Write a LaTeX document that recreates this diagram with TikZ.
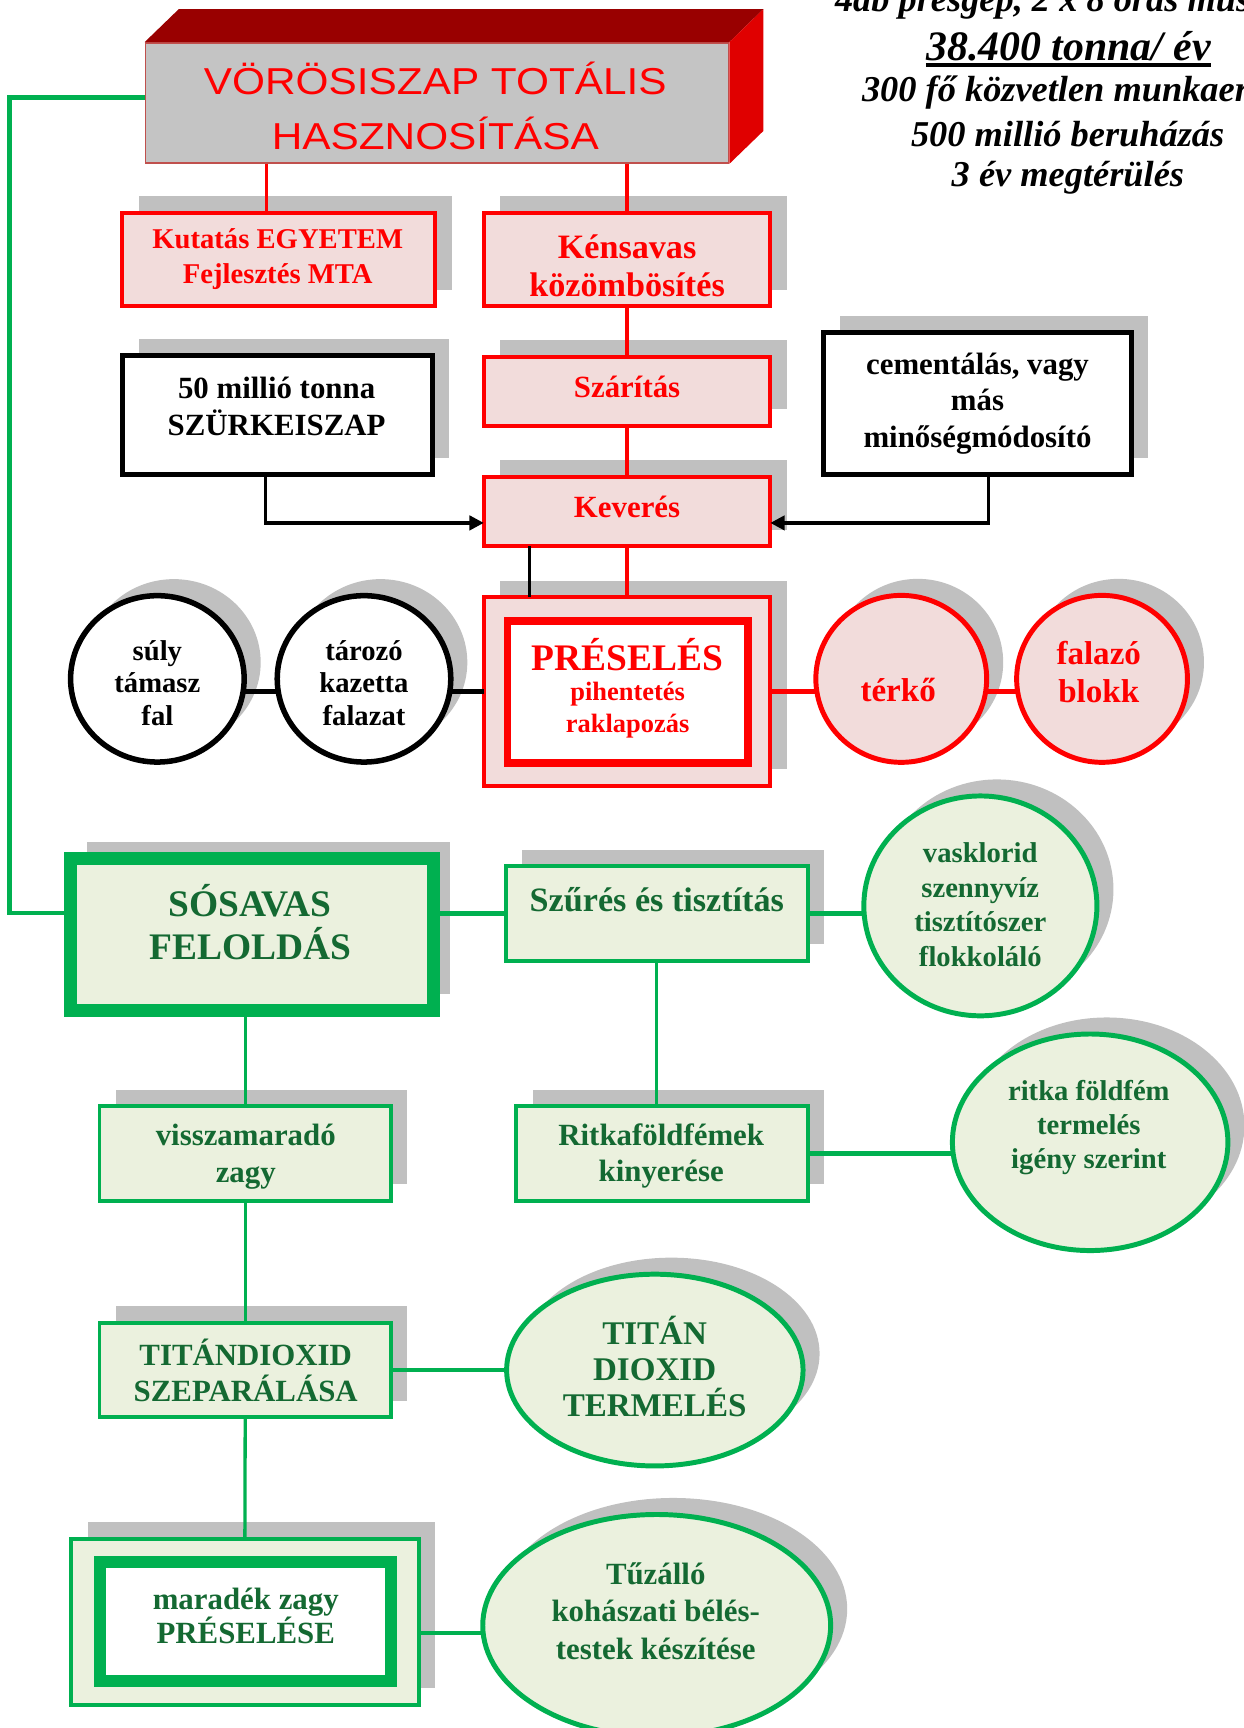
\documentclass[tikz,border=0pt]{standalone}
\usepackage{fontspec}
\setmainfont{Liberation Serif}
\newfontfamily\titlefont[FakeStretch=1.13]{Liberation Sans}
\usetikzlibrary{shapes.geometric,shadows,arrows.meta}
\definecolor{rd}{HTML}{FF0000}
\definecolor{pinkf}{HTML}{F2DCDB}
\definecolor{grf}{HTML}{EBF1DE}
\definecolor{grl}{HTML}{00B050}
\definecolor{grt}{HTML}{146932}
\definecolor{shg}{HTML}{C0C0C0}
\definecolor{drd}{HTML}{990000}
\definecolor{rface}{HTML}{E00000}
\definecolor{tface}{HTML}{C4C4C4}
\definecolor{tborder}{HTML}{C0504D}
\newcommand\fsz[2]{\fontsize{#1}{#2}\selectfont}
\tikzset{
 shd/.style={drop shadow={shadow xshift=15pt,shadow yshift=15pt,opacity=1,fill=shg}},
 boxbase/.style={rectangle,inner sep=0pt,outer sep=0pt,shd},
 redbox/.style={boxbase,draw=rd,line width=3.8pt,fill=pinkf},
 blkbox/.style={boxbase,draw=black,line width=4.5pt,fill=white},
 grnbox/.style={boxbase,draw=grl,line width=3.5pt,fill=grf},
 ovalbase/.style={ellipse,inner sep=0pt,outer sep=0pt,shd},
 blkoval/.style={ovalbase,draw=black,line width=5pt,fill=white},
 redoval/.style={ovalbase,draw=rd,line width=4.5pt,fill=pinkf},
 grnoval/.style={ovalbase,draw=grl,line width=4.5pt,fill=grf},
 txt/.style={align=center,inner sep=0pt},
 rtxt/.style={txt,text=rd},
 ktxt/.style={txt,text=black},
 gtxt/.style={txt,text=grt},
 redln/.style={draw=rd,line width=3pt},
 redthick/.style={draw=rd,line width=4pt},
 blkln/.style={draw=black,line width=3pt},
 blkthick/.style={draw=black,line width=5pt},
 blkarr/.style={draw=black,line width=3pt,-{Triangle[length=13pt,width=13pt]}},
 grnthin/.style={draw=grl,line width=3pt},
 grnmed/.style={draw=grl,line width=4pt},
 grnthick/.style={draw=grl,line width=5pt},
 rtext/.style={inner sep=0pt,text=black,anchor=base,font=\fsz{33}{40}\bfseries\itshape},
}
\begin{document}
\begin{tikzpicture}[x=1pt,y=-1pt]
\useasboundingbox (0,0) rectangle (1128.8,1568);
\clip (0,0) rectangle (1128.8,1568);

% ---- title block (3D)
\node[draw=tborder,line width=1.5pt,fill=tface,minimum width=529pt,minimum height=109pt,inner sep=0pt] (title) at (396.5,93.5) {};
\fill[drd] (title.north west) -- ++(31,-30) -- ([shift={(31pt,30pt)}]title.north east) -- (title.north east) -- cycle;
\fill[rface] (title.north east) -- ([shift={(31pt,30pt)}]title.north east) -- ([shift={(31pt,30pt)}]title.south east) -- (title.south east) -- cycle;
\node[rtxt,font=\titlefont\fsz{34}{49.4}] (titleT) at (395,96) {VÖRÖSISZAP TOTÁLIS\\HASZNOSÍTÁSA};

% ---- red column and side boxes
\node[redbox,minimum width=284pt,minimum height=85pt] (kut) at (253,235.5) {};
\node[rtxt,font=\fsz{26}{31.6}\bfseries] (kutT) at (252,235) {Kutatás EGYETEM\\Fejlesztés MTA};
\node[redbox,minimum width=260pt,minimum height=85pt] (ken) at (569,235.5) {};
\node[rtxt,font=\fsz{31}{34.6}\bfseries] (kenT) at (569,241) {Kénsavas\\közömbösítés};
\node[redbox,minimum width=260pt,minimum height=62.7pt] (sza) at (569,355.2) {};
\node[rtxt,font=\fsz{28}{34}\bfseries] (szaT) at (569,351) {Szárítás};
\node[redbox,minimum width=260pt,minimum height=62.7pt] (kev) at (569,464.2) {};
\node[rtxt,font=\fsz{28}{34}\bfseries] (kevT) at (569,460) {Keverés};
\node[blkbox,minimum width=281.5pt,minimum height=108pt] (mil) at (251.5,376.8) {};
\node[ktxt,font=\fsz{28}{34}\bfseries] (milT) at (251,369) {50 millió tonna\\SZÜRKEISZAP};
\node[blkbox,minimum width=279.5pt,minimum height=129pt] (cem) at (887,366.2) {};
\node[ktxt,font=\fsz{28}{33}\bfseries] (cemT) at (887,366) {cementálás, vagy\\más\\minőségmódosító};
\node[redbox,minimum width=260pt,minimum height=171pt] (pres) at (569,627.5) {};
\node[draw=rd,line width=7pt,fill=white,minimum width=218pt,minimum height=129pt,inner sep=0pt] (presI) at (569.5,627.7) {};
\node[rtxt,font=\fsz{34}{38}\bfseries] (presT1) at (569.5,594) {PRÉSELÉS};
\node[rtxt,font=\fsz{24}{29}\bfseries] (presT2) at (569.5,644.5) {pihentetés\\raklapozás};

% ---- circles
\node[blkoval,minimum width=157.5pt,minimum height=151pt] (suly) at (142.8,616) {};
\node[ktxt,font=\fsz{26}{29.5}\bfseries] (sulyT) at (142.8,619.5) {súly\\támasz\\fal};
\node[blkoval,minimum width=157.5pt,minimum height=151pt] (taro) at (330.3,616) {};
\node[ktxt,font=\fsz{26}{29.5}\bfseries] (taroT) at (330.3,619.5) {tározó\\kazetta\\falazat};
\node[redoval,minimum width=155pt,minimum height=151.5pt] (terko) at (817.8,616) {};
\node[rtxt,font=\fsz{30}{34}\bfseries] (terkoT) at (815,626) {térkő};
\node[redoval,minimum width=155pt,minimum height=151.5pt] (falazo) at (1000,616) {};
\node[rtxt,font=\fsz{30}{34}\bfseries] (falazoT) at (997,610) {falazó\\blokk};

% ---- green part
\node[boxbase,draw=grl,line width=12pt,fill=grf,minimum width=330pt,minimum height=138pt] (sos) at (228.7,848) {};
\node[gtxt,font=\fsz{34}{39.2}\bfseries] (sosT) at (227,836.4) {SÓSAVAS\\FELOLDÁS};
\node[grnbox,minimum width=273.8pt,minimum height=85.7pt] (szur) at (596,829) {};
\node[gtxt,font=\fsz{31}{34}\bfseries] (szurT) at (596,816.8) {Szűrés és tisztítás};
\node[grnoval,minimum width=211.5pt,minimum height=199.5pt] (vask) at (889.6,822) {};
\node[gtxt,font=\fsz{26}{31.3}\bfseries] (vaskT) at (889.5,821) {vasklorid\\szennyvíz\\tisztítószer\\flokkoláló};
\node[grnbox,minimum width=264.5pt,minimum height=86pt] (vissza) at (222.5,1046.8) {};
\node[gtxt,font=\fsz{28}{33.4}\bfseries] (visszaT) at (223,1049.5) {visszamaradó\\zagy};
\node[grnbox,minimum width=264.5pt,minimum height=86pt] (ritk) at (600.7,1046.8) {};
\node[gtxt,font=\fsz{28}{33}\bfseries] (ritkT) at (600,1049) {Ritkaföldfémek\\kinyerése};
\node[grnoval,minimum width=250pt,minimum height=196.5pt] (ritkaE) at (989.2,1036.5) {};
\node[gtxt,font=\fsz{26}{31}\bfseries] (ritkaET) at (988,1023) {ritka földfém\\termelés\\igény szerint};
\node[grnbox,minimum width=264.5pt,minimum height=85.8pt] (titb) at (222.5,1243.2) {};
\node[gtxt,font=\fsz{28}{32}\bfseries] (titbT) at (223,1243.6) {TITÁNDIOXID\\SZEPARÁLÁSA};
\node[grnoval,minimum width=269pt,minimum height=174pt] (titE) at (594.2,1243.2) {};
\node[gtxt,font=\fsz{30}{33}\bfseries] (titET) at (594,1240) {TITÁN\\DIOXID\\TERMELÉS};
\node[grnbox,minimum width=315.5pt,minimum height=150.7pt] (mar) at (222.2,1471.7) {};
\node[draw=grl,line width=11pt,fill=white,minimum width=264pt,minimum height=108pt,inner sep=0pt] (marI) at (222.5,1471.5) {};
\node[gtxt,font=\fsz{28}{31}\bfseries] (marT) at (223,1466.5) {maradék zagy\\PRÉSELÉSE};
\node[grnoval,minimum width=315.7pt,minimum height=201.5pt] (tuz) at (595.9,1475) {};
\node[gtxt,font=\fsz{28}{34}\bfseries] (tuzT) at (595,1462) {Tűzálló\\kohászati bélés-\\testek készítése};

% ---- top right text
\node[rtext] (r1) at (969,10.6) {4db présgép, 2 x 8 órás műszak};
\node[rtext,font=\fsz{38}{44}\bfseries\itshape] (r2) at (969.7,55) {38.400 tonna/ év};
\draw[line width=3.6pt] ([yshift=-4.3pt]r2.base west) -- ([yshift=-4.3pt]r2.base east);
\node[rtext] (r3) at (966,92.3) {300 fő közvetlen munkaerő};
\node[rtext] (r4) at (968.8,133) {500 millió beruházás};
\node[rtext] (r5) at (969,169.4) {3 év megtérülés};

% ---- connectors (red / black)
\coordinate (kutTop) at ([xshift=-11pt]kut.north);
\draw[redln] (kutTop |- title.south) -- (kutTop);
\draw[redln] (ken.north |- title.south) -- (ken.north);
\draw[redln] (ken.south) -- (sza.north);
\draw[redln] (sza.south) -- (kev.north);
\draw[redln] (kev.south) -- (pres.north);
\coordinate (kevBL) at ([xshift=-88.5pt]kev.south);
\draw[blkln] (kevBL) -- (kevBL |- pres.north);
\coordinate (milB) at ([xshift=-10.5pt]mil.south);
\draw[blkarr] (milB) |- ([yshift=-10.3pt]kev.west);
\coordinate (cemB) at ([xshift=10pt]cem.south);
\draw[blkarr] (cemB) |- ([yshift=-10.3pt]kev.east);
\draw[blkthick] (pres.west -| suly.east) -- (pres.west -| taro.west);
\draw[blkthick] (pres.west -| taro.east) -- (pres.west);
\draw[redthick] (pres.east) -- (pres.east -| terko.west);
\draw[redthick] (pres.east -| terko.east) -- (pres.east -| falazo.west);

% ---- connectors (green)
\coordinate (gcorner) at (8.7,88.3);
\draw[grnmed] ([yshift=5.2pt]title.west) -- (gcorner) |- ([yshift=19.3pt]sos.west);
\draw[grnthick] (sos.east |- szur.west) -- (szur.west);
\draw[grnthick] (szur.east) -- (szur.east -| vask.west);
\draw[grnthin] (szur.south) -- (szur.south |- ritk.north);
\draw[grnthin] (vissza.north |- sos.south) -- (vissza.north);
\draw[grnmed] (ritk.east) -- (ritk.east -| ritkaE.west);
\draw[grnthin] (vissza.south) -- (titb.north);
\draw[grnmed] (titb.east) -- (titE.west);
\draw[grnthin] (titb.south) -- (mar.north);
\coordinate (marR) at ([yshift=-10.3pt]mar.east);
\draw[grnmed] (marR) -- (marR -| tuz.west);
\end{tikzpicture}
\end{document}
